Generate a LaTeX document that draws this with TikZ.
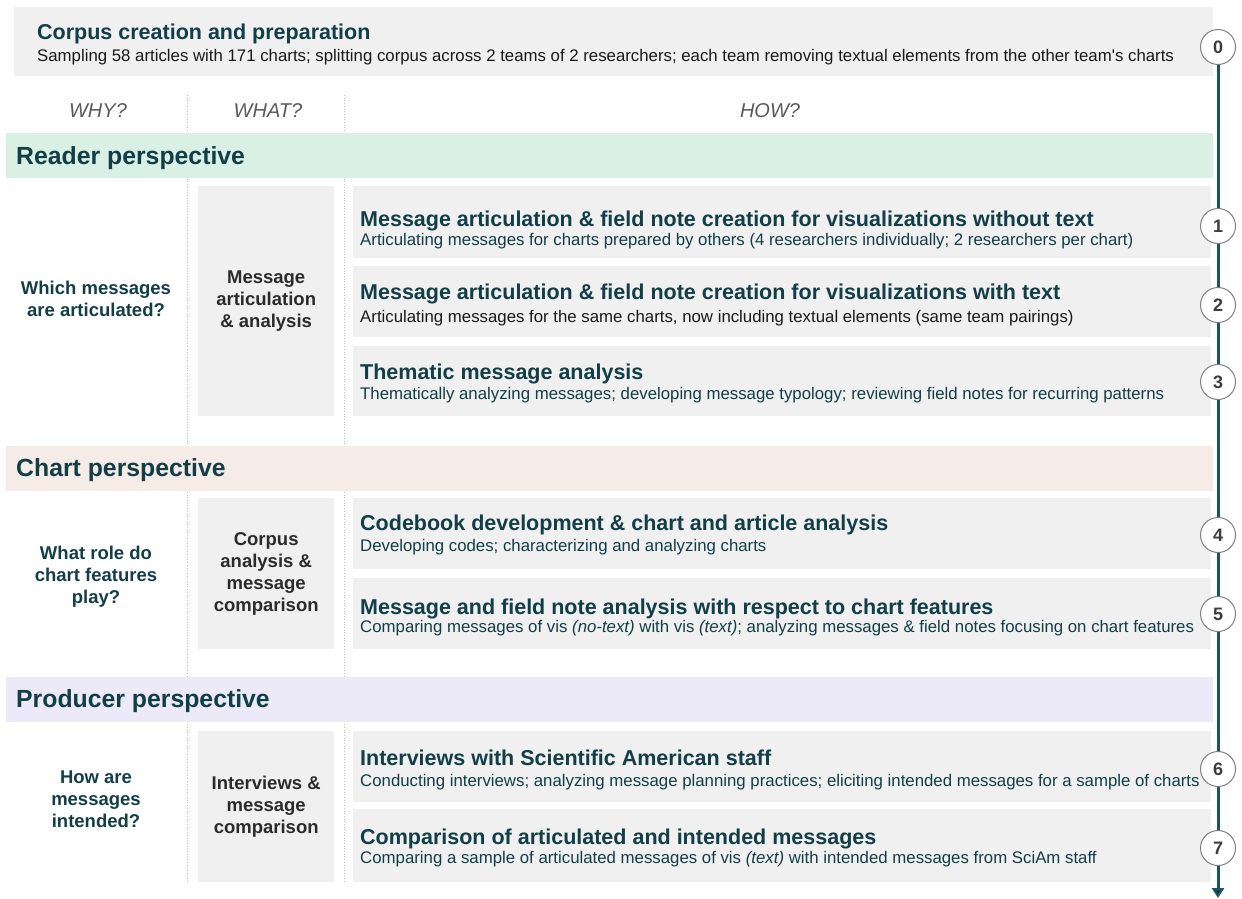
\documentclass[tikz,border=0pt]{standalone}
\usepackage{fontspec}
\setmainfont{Liberation Sans}
\usetikzlibrary{arrows.meta}
\definecolor{deepteal}{HTML}{123E48}
\definecolor{flowteal}{HTML}{1B5563}
\definecolor{panelgray}{HTML}{F0F0F0}
\definecolor{readerbg}{HTML}{D9F0E4}
\definecolor{chartbg}{HTML}{F6ECE7}
\definecolor{producerbg}{HTML}{ECE9F8}
\definecolor{headgray}{HTML}{5A5A5A}
\definecolor{whatgray}{HTML}{2B2B2B}
\definecolor{numgray}{HTML}{3C3C3C}

\begin{document}
\begin{tikzpicture}[x=1pt,y=-1pt]
  \tikzstyle{panel}=[fill=panelgray, inner sep=0pt, anchor=north west]
  \tikzstyle{howbox}=[panel, minimum width=858pt]
  \tikzstyle{whatbox}=[panel, minimum width=136pt, align=center, text=whatgray, font=\fontsize{18.5}{22}\selectfont\bfseries]
  \tikzstyle{band}=[inner sep=0pt, anchor=north west, minimum width=1207pt, minimum height=45pt]
  \tikzstyle{bandtext}=[anchor=base west, inner sep=0pt, text=deepteal, font=\fontsize{24.8}{28}\selectfont\bfseries]
  \tikzstyle{steptitle}=[anchor=base west, inner sep=0pt, text=deepteal, font=\fontsize{21.5}{25}\selectfont\bfseries]
  \tikzstyle{stepnote}=[anchor=base west, inner sep=0pt, text=deepteal, font=\fontsize{16.8}{19}\selectfont]
  \tikzstyle{head}=[text=headgray, font=\fontsize{20}{23}\selectfont\itshape]
  \tikzstyle{why}=[align=center, text=deepteal, font=\fontsize{18.5}{22}\selectfont\bfseries]
  \tikzstyle{stepnum}=[circle, draw=gray, line width=1pt, fill=white, minimum size=35pt, inner sep=0pt, text=numgray, font=\fontsize{18}{20}\selectfont\bfseries]
  \tikzstyle{flow}=[draw=flowteal, line width=3pt]
  \tikzstyle{sepline}=[draw=black!25, dotted, line width=0.7pt]

  \useasboundingbox (0,0) rectangle (1242,899);

  \draw[sepline] (187,95) -- (187,881);
  \draw[sepline] (344,95) -- (344,881);

  \node[panel, minimum width=1199pt, minimum height=69pt] (prep) at (14,7) {};
  \node[steptitle] (preptitle) at (37,40) {Corpus creation and preparation};
  \node[stepnote, text=black!90] (prepnote) at (37,62) {Sampling 58 articles with 171 charts; splitting corpus across 2 teams of 2 researchers; each team removing textual elements from the other team\textquotesingle s charts};

  \node[head] (why)  at (98,111)  {WHY?};
  \node[head] (what) at (268,111) {WHAT?};
  \node[head] (how)  at (770,111) {HOW?};

  \node[band, fill=readerbg]   (reader)   at (6,133) {};
  \node[band, fill=chartbg]    (chart)    at (6,446) {};
  \node[band, fill=producerbg] (producer) at (6,677) {};
  \node[bandtext] (readertext)   at (16,164) {Reader perspective};
  \node[bandtext] (charttext)    at (16,476) {Chart perspective};
  \node[bandtext] (producertext) at (16,707) {Producer perspective};

  \node[why] (whyreader)   at (96,299) {Which messages\\are articulated?};
  \node[why] (whychart)    at (96,577) {What role do\\chart features\\play?};
  \node[why] (whyproducer) at (96,799) {How are\\messages\\intended?};

  \node[whatbox, minimum height=230pt] (whatreader)   at (198,186) {Message\\articulation\\\& analysis};
  \node[whatbox, minimum height=151pt] (whatchart)    at (198,498) {Corpus\\analysis \&\\message\\comparison};
  \node[whatbox, minimum height=151pt] (whatproducer) at (198,731) {Interviews \&\\message\\comparison};

  \node[howbox, minimum height=72pt] (s1) at (353,186) {};
  \node[howbox, minimum height=71pt] (s2) at (353,266) {};
  \node[howbox, minimum height=70pt] (s3) at (353,346) {};
  \node[howbox, minimum height=71pt] (s4) at (353,498) {};
  \node[howbox, minimum height=71pt] (s5) at (353,578) {};
  \node[howbox, minimum height=71pt] (s6) at (353,731) {};
  \node[howbox, minimum height=73pt] (s7) at (353,809) {};

  \node[steptitle] (s1title) at (360,226) {Message articulation \& field note creation for visualizations without text};
  \node[stepnote]  (s1note)  at (360,245) {Articulating messages for charts prepared by others (4 researchers individually; 2 researchers per chart)};
  \node[steptitle] (s2title) at (360,299) {Message articulation \& field note creation for visualizations with text};
  \node[stepnote, text=black!90] (s2note) at (360,322) {Articulating messages for the same charts, now including textual elements (same team pairings)};
  \node[steptitle] (s3title) at (360,379) {Thematic message analysis};
  \node[stepnote]  (s3note)  at (360,399) {Thematically analyzing messages; developing message typology; reviewing field notes for recurring patterns};
  \node[steptitle] (s4title) at (360,530) {Codebook development \& chart and article analysis};
  \node[stepnote]  (s4note)  at (360,551) {Developing codes; characterizing and analyzing charts};
  \node[steptitle] (s5title) at (360,614) {Message and field note analysis with respect to chart features};
  \node[stepnote]  (s5note)  at (360,632) {Comparing messages of vis \textit{(no-text)} with vis \textit{(text)}; analyzing messages \& field notes focusing on chart features};
  \node[steptitle] (s6title) at (360,765) {Interviews with Scientific American staff};
  \node[stepnote]  (s6note)  at (360,786) {Conducting interviews; analyzing message planning practices; eliciting intended messages for a sample of charts};
  \node[steptitle] (s7title) at (360,844) {Comparison of articulated and intended messages};
  \node[stepnote]  (s7note)  at (360,863) {Comparing a sample of articulated messages of vis \textit{(text)} with intended messages from SciAm staff};

  \node[stepnum] (n0) at (1218,47)  {0};
  \node[stepnum] (n1) at (1218,226) {1};
  \node[stepnum] (n2) at (1218,305) {2};
  \node[stepnum] (n3) at (1218,382) {3};
  \node[stepnum] (n4) at (1218,535) {4};
  \node[stepnum] (n5) at (1218,614) {5};
  \node[stepnum] (n6) at (1218,769) {6};
  \node[stepnum] (n7) at (1218,848) {7};
  \coordinate (end) at (1218,898);

  \path[flow] (n0) edge (n1);
  \path[flow] (n1) edge (n2);
  \path[flow] (n2) edge (n3);
  \path[flow] (n3) edge (n4);
  \path[flow] (n4) edge (n5);
  \path[flow] (n5) edge (n6);
  \path[flow] (n6) edge (n7);
  \path[flow] (n7) edge[-{Triangle[length=10pt,width=12pt]}] (end);
\end{tikzpicture}
\end{document}
